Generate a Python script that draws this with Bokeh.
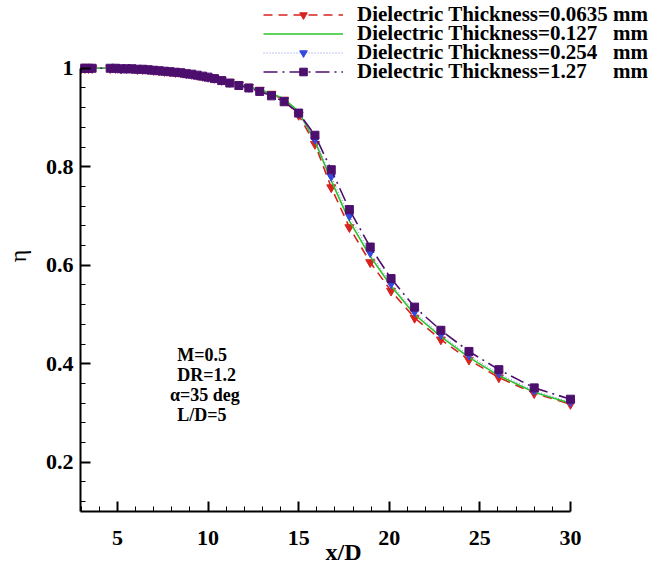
from bokeh.plotting import figure
from bokeh.models import (Range1d, FixedTicker, Legend, LegendItem, Label, ColumnDataSource)
from bokeh.embed import file_html
from bokeh.resources import INLINE

# ---- data ----
x_over_d = [3.0, 3.2, 3.4, 3.6, 4.6, 4.9, 5.2, 5.5, 5.8, 6.1, 6.4, 6.7, 7.0, 7.3, 7.6,
            7.9, 8.2, 8.5, 8.8, 9.1, 9.4, 9.7, 10.0, 10.35, 10.75, 11.2, 11.7, 12.25,
            12.85, 13.5, 14.2, 15.0, 15.9, 16.8, 17.8, 18.95, 20.1, 21.4, 22.85, 24.4,
            26.05, 28.0, 30.0]

eta_t0635 = [1.0, 1.0, 1.0, 1.0, 1.0, 1.0, 0.999, 0.999, 0.999, 0.998, 0.998, 0.997,
             0.996, 0.995, 0.994, 0.993, 0.992, 0.991, 0.989, 0.988, 0.986, 0.984, 0.982,
             0.980, 0.976, 0.972, 0.967, 0.962, 0.956, 0.948, 0.936, 0.905, 0.846, 0.758,
             0.677, 0.606, 0.548, 0.493, 0.449, 0.408, 0.372, 0.340, 0.318]

eta_t127 = [1.0, 1.0, 1.0, 1.0, 1.0, 1.0, 0.999, 0.999, 0.999, 0.998, 0.998, 0.997,
            0.996, 0.995, 0.994, 0.993, 0.992, 0.991, 0.989, 0.988, 0.986, 0.984, 0.982,
            0.980, 0.976, 0.972, 0.967, 0.962, 0.956, 0.949, 0.938, 0.912, 0.852, 0.772,
            0.690, 0.618, 0.558, 0.500, 0.455, 0.413, 0.376, 0.342, 0.320]

eta_t254 = [1.0, 1.0, 1.0, 1.0, 1.0, 1.0, 0.999, 0.999, 0.999, 0.998, 0.998, 0.997,
            0.996, 0.995, 0.994, 0.993, 0.992, 0.991, 0.989, 0.988, 0.986, 0.984, 0.982,
            0.980, 0.976, 0.971, 0.966, 0.961, 0.955, 0.947, 0.936, 0.908, 0.855, 0.780,
            0.700, 0.625, 0.562, 0.505, 0.459, 0.417, 0.380, 0.345, 0.322]

eta_t127mm = [1.0, 1.0, 1.0, 1.0, 1.0, 1.0, 0.999, 0.999, 0.999, 0.998, 0.998, 0.997,
              0.996, 0.995, 0.994, 0.993, 0.992, 0.991, 0.989, 0.988, 0.986, 0.984, 0.982,
              0.979, 0.975, 0.970, 0.965, 0.960, 0.953, 0.944, 0.932, 0.909, 0.864, 0.794,
              0.713, 0.637, 0.573, 0.515, 0.468, 0.425, 0.388, 0.351, 0.328]

series_labels = ["Dielectric Thickness=0.0635 mm",
                 "Dielectric Thickness=0.127\u2007 mm",
                 "Dielectric Thickness=0.254\u2007 mm",
                 "Dielectric Thickness=1.27\u2007\u2007 mm"]

x_major = [5, 10, 15, 20, 25, 30]
x_minor = [3, 4, 6, 7, 8, 9, 11, 12, 13, 14, 16, 17, 18, 19, 21, 22, 23, 24, 26, 27, 28, 29]
y_major = [0.2, 0.4, 0.6, 0.8, 1.0]
y_minor = [0.12, 0.16, 0.24, 0.28, 0.32, 0.36, 0.44, 0.48, 0.52, 0.56, 0.64, 0.68,
           0.72, 0.76, 0.84, 0.88, 0.92, 0.96]

annotations = ["M=0.5", "DR=1.2", "\u03b1=35 deg", "L/D=5"]

# ---- figure ----
FONT = "Liberation Serif"
p = figure(width=654, height=567, output_backend="svg", toolbar_location=None,
           x_range=Range1d(2.96, 34.64), y_range=Range1d(0.1, 1.1376),
           min_border_left=80, min_border_right=0, min_border_top=0, min_border_bottom=56)
p.outline_line_color = None
p.grid.visible = False
p.background_fill_color = "white"
p.border_fill_color = "white"

src = ColumnDataSource(dict(x=x_over_d, a=eta_t0635, b=eta_t127, c=eta_t254, d=eta_t127mm))

RED = "#d8231f"
GREEN = "#2cc42c"
BLUE = "#3348e0"
PURPLE = "#4d0f6e"

r_red_l = p.line("x", "a", source=src, line_color=RED, line_width=1.6, line_dash="9 6")
r_red_m = p.scatter("x", "a", source=src, marker="inverted_triangle", size=9,
                    fill_color=RED, line_color=RED)
r_green_l = p.line("x", "b", source=src, line_color=GREEN, line_width=1.6)
r_blue_l = p.line("x", "c", source=src, line_color="#7a8ce8", line_width=1.0, line_dash="1 2")
r_blue_m = p.scatter("x", "c", source=src, marker="inverted_triangle", size=8,
                     fill_color=BLUE, line_color=BLUE)
r_pur_l = p.line("x", "d", source=src, line_color=PURPLE, line_width=1.6, line_dash="14 5 2 5")
r_pur_m = p.scatter("x", "d", source=src, marker="square", size=8,
                    fill_color=PURPLE, line_color=PURPLE)

# ---- axes ----
p.xaxis.ticker = FixedTicker(ticks=x_major, minor_ticks=x_minor)
p.yaxis.ticker = FixedTicker(ticks=y_major, minor_ticks=y_minor)
p.xaxis.bounds = (2.96, 30)
p.yaxis.bounds = (0.1, 1.0)
p.yaxis.major_label_overrides = {1.0: "1", 1: "1"}
for ax in (p.xaxis[0], p.yaxis[0]):
    ax.axis_line_width = 2
    ax.axis_line_color = "black"
    ax.major_tick_in = 10
    ax.major_tick_out = 0
    ax.minor_tick_in = 5
    ax.minor_tick_out = 0
    ax.major_tick_line_width = 2
    ax.minor_tick_line_width = 1
    ax.major_label_text_font = FONT
    ax.major_label_text_font_style = "bold"
    ax.major_label_text_font_size = "22px"
    ax.major_label_text_color = "black"
    ax.axis_label_text_color = "black"
    ax.axis_label_text_font = FONT

p.xaxis.major_label_standoff = 19
p.yaxis.major_label_standoff = 7
# trailing figure spaces shift the centred label left, under the drawn part of the axis
p.xaxis.axis_label = "x/D\u2007\u2007\u2007\u2007"
p.xaxis.axis_label_text_font_style = "bold"
p.xaxis.axis_label_text_font_size = "24px"
p.xaxis.axis_label_standoff = -9
p.yaxis.axis_label = "\u03b7"
p.yaxis.axis_label_text_font_style = "normal"
p.yaxis.axis_label_text_font_size = "24px"
p.yaxis.axis_label_standoff = 12

# ---- legend: one row per Legend so the rows can sit 19 px apart ----
row_renderers = [[r_red_l, r_red_m], [r_green_l], [r_blue_l, r_blue_m], [r_pur_l, r_pur_m]]
row_offsets = [484, 465, 446, 427]
for lab, rends, yoff in zip(series_labels, row_renderers, row_offsets):
    lg = Legend(items=[LegendItem(label=lab, renderers=rends)], location=(183, yoff),
                glyph_width=80, glyph_height=19, label_height=19, label_standoff=14,
                spacing=0, padding=0, margin=0,
                label_text_font=FONT, label_text_font_style="bold",
                label_text_font_size="21px", label_text_color="black",
                background_fill_alpha=0, border_line_alpha=0)
    p.add_layout(lg, "center")

# ---- annotation text ----
ann_x = [8.3, 8.3, 7.9, 8.3]
ann_y = [0.417, 0.377, 0.336, 0.295]
for t, xx, yy in zip(annotations, ann_x, ann_y):
    p.add_layout(Label(x=xx, y=yy, text=t, text_font=FONT, text_font_style="bold",
                       text_font_size="18px", text_baseline="middle", text_color="black"))

open("out.html", "w").write(file_html(p, INLINE))
